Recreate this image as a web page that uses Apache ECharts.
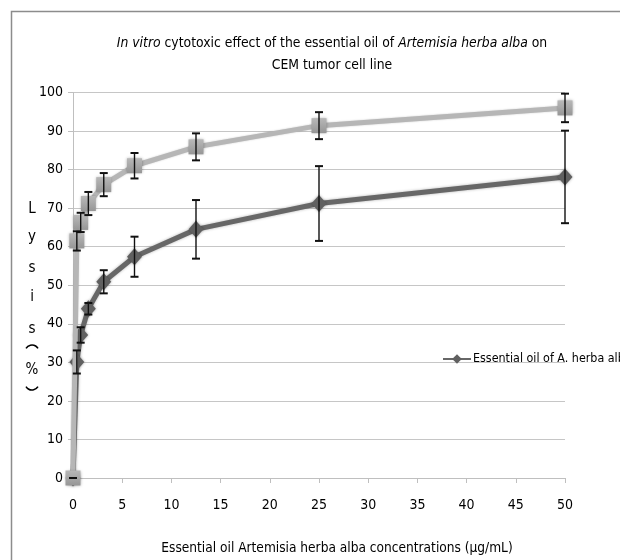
<!DOCTYPE html>
<html>
<head>
<meta charset="utf-8">
<script src="https://cdn.jsdelivr.net/npm/echarts@6/dist/echarts.min.js"></script>
<style>html,body{margin:0;padding:0;background:#fff}#c{width:620px;height:560px}</style>
</head>
<body>
<div id="c"></div>
<script>
// Data
const concentrations = [0, 0.39, 0.78, 1.56, 3.125, 6.25, 12.5, 25, 50];
const oilLysis = [0, 30.1, 37.1, 43.9, 50.9, 57.4, 64.5, 71.2, 78.1];
const oilError = [0, 3, 2, 1.5, 3, 5.2, 7.6, 9.7, 12];
const refLysis = [0, 61.5, 66.3, 71.2, 76.1, 81.0, 85.9, 91.4, 96.0];
const refError = [0, 2.5, 2.5, 3, 3, 3.3, 3.5, 3.5, 3.7];
const xTicks = [0, 5, 10, 15, 20, 25, 30, 35, 40, 45, 50];
const yTicks = [0, 10, 20, 30, 40, 50, 60, 70, 80, 90, 100];
const oilName = 'Essential oil of A. herba alba';
const refName = 'Reference';
const titleLine1a = 'In vitro';
const titleLine1b = ' cytotoxic effect of the essential oil of ';
const titleLine1c = 'Artemisia herba alba';
const titleLine1d = ' on';
const titleLine2 = 'CEM tumor cell line';
const xName = 'Essential oil Artemisia herba alba concentrations (µg/mL)';
const yNameChars = ['L', 'y', 's', 'i', 's', '%'];

const FONT = "'Liberation Sans Narrow', 'DejaVu Sans Condensed', 'Open Sans', sans-serif";

const oilData = concentrations.map((x, i) => [x, oilLysis[i]]);
const refData = concentrations.map((x, i) => [x, refLysis[i]]);
const oilErr = concentrations.map((x, i) => [x, oilLysis[i] - oilError[i], oilLysis[i] + oilError[i]]);
const refErr = concentrations.map((x, i) => [x, refLysis[i] - refError[i], refLysis[i] + refError[i]]);

function errRender(params, api) {
  const x = api.value(0);
  const lo = api.coord([x, api.value(1)]);
  const hi = api.coord([x, api.value(2)]);
  const w = 4;
  const cap = { stroke: '#111', lineWidth: 2 };
  return {
    type: 'group',
    children: [
      { type: 'line', shape: { x1: lo[0], y1: lo[1], x2: hi[0], y2: hi[1] }, style: { stroke: '#111', lineWidth: 1.4 } },
      { type: 'line', shape: { x1: lo[0] - w, y1: lo[1], x2: lo[0] + w, y2: lo[1] }, style: cap },
      { type: 'line', shape: { x1: hi[0] - w, y1: hi[1], x2: hi[0] + w, y2: hi[1] }, style: cap }
    ]
  };
}

const yYs = [209, 237, 268, 297, 329, 370];
const graphics = [
  { type: 'rect', shape: { x: 11.5, y: 11.5, width: 700, height: 700 }, style: { fill: 'none', stroke: '#8c8c8c', lineWidth: 1.5 }, silent: true },
  { type: 'arc', shape: { cx: 32, cy: 352, r: 7, startAngle: Math.PI + 0.55, endAngle: 2 * Math.PI - 0.55 }, style: { stroke: '#000', lineWidth: 1.6, fill: 'none' }, silent: true },
  { type: 'arc', shape: { cx: 32, cy: 383, r: 7, startAngle: 0.55, endAngle: Math.PI - 0.55 }, style: { stroke: '#000', lineWidth: 1.6, fill: 'none' }, silent: true }
];
yNameChars.forEach((ch, i) => {
  graphics.push({
    type: 'text', x: 32, y: yYs[i],
    style: { text: ch, fontSize: 15, fontFamily: FONT, fill: '#000', align: 'center', verticalAlign: 'middle' }
  });
});

const chart = echarts.init(document.getElementById('c'), null, { renderer: 'canvas' });
chart.setOption({
  animation: false,
  backgroundColor: '#fff',
  title: {
    text: '{i|' + titleLine1a + '}{n|' + titleLine1b + '}{i|' + titleLine1c + '}{n|' + titleLine1d + '}\n{n|' + titleLine2 + '}',
    left: 327, top: 27, textAlign: 'center',
    textStyle: {
      fontWeight: 'normal',
      rich: {
        i: { fontSize: 13.8, fontStyle: 'italic', fontWeight: 'normal', fontFamily: FONT, color: '#000', lineHeight: 22 },
        n: { fontSize: 13.8, fontWeight: 'normal', fontFamily: FONT, color: '#000', lineHeight: 22 }
      }
    }
  },
  legend: {
    data: [oilName], left: 437, top: 348, itemWidth: 28, itemHeight: 12, itemGap: 0, width: 400,
    textStyle: { fontSize: 12.4, fontFamily: FONT, color: '#000', padding: [0, 0, 0, -3], overflow: 'none' }
  },
  grid: { left: 73, right: 55, top: 92.5, bottom: 75, containLabel: false },
  xAxis: {
    type: 'value', min: 0, max: 50, interval: 5,
    name: xName, nameLocation: 'middle', nameGap: 63,
    nameTextStyle: { fontSize: 13.6, fontFamily: FONT, color: '#000', padding: [0, 0, 0, 36] },
    axisLine: { show: true, lineStyle: { color: '#bfbfbf', width: 1 } },
    axisTick: { show: true, length: 5, lineStyle: { color: '#bfbfbf' } },
    axisLabel: { fontSize: 14, fontFamily: FONT, color: '#000', margin: 20, customValues: xTicks },
    splitLine: { show: false }
  },
  yAxis: {
    type: 'value', min: 0, max: 100, interval: 10,
    axisLine: { show: true, lineStyle: { color: '#bfbfbf', width: 1 } },
    axisTick: { show: true, length: 5, lineStyle: { color: '#bfbfbf' } },
    axisLabel: { fontSize: 14, fontFamily: FONT, color: '#000', margin: 10, customValues: yTicks },
    splitLine: { show: true, lineStyle: { color: '#c6c6c6', width: 1 } }
  },
  graphic: graphics,
  series: [
    {
      name: oilName, type: 'line', data: oilData, z: 3,
      symbol: 'diamond', symbolSize: [15, 17],
      lineStyle: { color: '#676767', width: 5, shadowColor: 'rgba(0,0,0,0.3)', shadowBlur: 3 },
      itemStyle: { color: '#606060', shadowColor: 'rgba(0,0,0,0.35)', shadowBlur: 3 }
    },
    {
      name: refName, type: 'line', data: refData, z: 4,
      symbol: 'rect', symbolSize: 15,
      lineStyle: { color: '#b6b6b6', width: 5, shadowColor: 'rgba(0,0,0,0.2)', shadowBlur: 2 },
      itemStyle: {
        color: new echarts.graphic.LinearGradient(0, 0, 0, 1, [
          { offset: 0, color: '#b8b8b8' }, { offset: 1, color: '#969696' }
        ]),
        shadowColor: 'rgba(0,0,0,0.35)', shadowBlur: 3
      }
    },
    { type: 'custom', name: 'oilErr', data: oilErr, renderItem: errRender, z: 5, encode: { x: 0, y: [1, 2] }, silent: true },
    { type: 'custom', name: 'refErr', data: refErr, renderItem: errRender, z: 5, encode: { x: 0, y: [1, 2] }, silent: true }
  ]
});
</script>
</body>
</html>
